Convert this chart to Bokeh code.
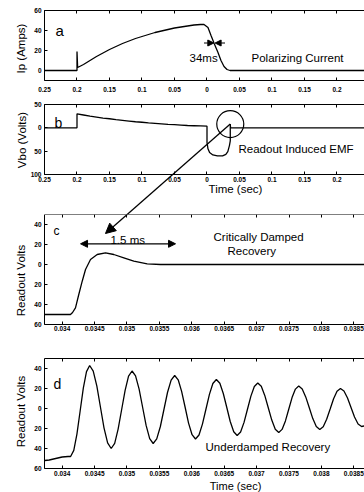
import math
from bokeh.plotting import figure
from bokeh.models import Range1d, LinearAxis, FixedTicker, Arrow, NormalHead, Label
from bokeh.layouts import column
from bokeh.embed import file_html
from bokeh.resources import INLINE

FONT = "Liberation Sans"

# ---------------- data ----------------
# Panel a: polarizing current (Amps) vs time (s)
a_t = [-0.25, -0.2, -0.2, -0.199, -0.19, -0.18, -0.17, -0.16, -0.15, -0.14, -0.13,
       -0.12, -0.11, -0.10, -0.09, -0.08, -0.07, -0.06, -0.05, -0.04, -0.03, -0.02,
       -0.01, -0.0046, 0.0015, 0.0062, 0.0112, 0.0169, 0.0215, 0.0262, 0.0308, 0.0354, 0.25]
a_ip = [0, 0, 19, 3, 6, 10, 14, 17.5, 21, 24, 27,
        29.5, 32, 34, 36, 38, 39.5, 41, 42.5, 43.5, 44.5, 45.5,
        46, 46, 43, 35, 26.7, 18, 10, 4, 1, 0, 0]

# Panel b: induced EMF (Volts) vs time (s)
b_t = [-0.25, -0.2, -0.2, -0.19, -0.18, -0.17, -0.16, -0.15, -0.14, -0.13, -0.12,
       -0.11, -0.10, -0.09, -0.08, -0.07, -0.06, -0.05, -0.04, -0.03, -0.02, -0.01,
       0.0, 0.0, 0.0015, 0.004, 0.009, 0.016, 0.024, 0.029, 0.032, 0.0345, 0.0358,
       0.0358, 0.0362, 0.037, 0.25]
b_v = [0, 0, 30, 27.5, 25, 23, 21, 19.5, 17.5, 16, 14.5,
       13, 12, 10.5, 9.5, 8.5, 7.5, 7, 6, 5, 4.5, 4,
       3.5, -31, -45, -53, -58, -60, -60, -57, -51, -38, -28,
       8, 1, 0, 0]

# Panel c: critically damped recovery (Volts) vs time (s)
c_t = [0.03373, 0.034128, 0.03416, 0.034205, 0.034256, 0.034309, 0.03436, 0.034437,
       0.03454, 0.034668, 0.034796, 0.034951, 0.035105, 0.035312, 0.035517, 0.0387]
c_v = [-50, -50, -48, -43.3, -30, -16.7, -5, 5,
       10, 11.7, 10, 6.7, 3.3, 0.7, 0, 0]

# Panel d: underdamped recovery (Volts) vs time (s)
d_t = [0.03373, 0.0338, 0.0339, 0.034, 0.03409, 0.03413,
       0.034179, 0.034228, 0.034277, 0.034326, 0.034375, 0.034424,
       0.034479, 0.034535, 0.03459, 0.034645, 0.034701, 0.034756,
       0.03481, 0.034863, 0.034917, 0.034971, 0.035024, 0.035078,
       0.035132, 0.035187, 0.035241, 0.035295, 0.03535, 0.035404,
       0.035459, 0.035515, 0.03557, 0.035625, 0.035681, 0.035736,
       0.03579, 0.035843, 0.035897, 0.03595, 0.036004, 0.036057,
       0.036111, 0.036164, 0.036218, 0.036272, 0.036325, 0.036379,
       0.036433, 0.036486, 0.03654, 0.036593, 0.036647, 0.0367,
       0.036753, 0.036806, 0.036859, 0.036912, 0.036965, 0.037018,
       0.037072, 0.037126, 0.03718, 0.037234, 0.037288, 0.037342,
       0.037393, 0.037445, 0.037496, 0.037547, 0.037599, 0.03765,
       0.037704, 0.037758, 0.037813, 0.037867, 0.037921, 0.037975,
       0.038028, 0.038081, 0.038135, 0.038188, 0.038241, 0.038294,
       0.038348, 0.038403, 0.038457, 0.038511, 0.038566, 0.03862, 0.0387]
d_v = [-52, -51.5, -50, -48.5, -48, -48,
       -41.9, -25.3, -2.5, 20.3, 36.9, 43,
       37.4, 22.3, 1.5, -19.3, -34.4, -40,
       -34.8, -20.6, -1.25, 18.1, 32.3, 37.5,
       32.6, 19.4, 1.25, -16.9, -30.1, -35,
       -30.4, -18, -1, 16, 28.4, 33,
       28.7, 17.1, 1.25, -14.6, -26.2, -30.5,
       -26.5, -15.6, -0.75, 14.1, 25, 29,
       25.2, 15, 1, -13, -23.2, -27,
       -23.5, -13.9, -0.75, 12.4, 22, 25.5,
       22.2, 13.1, 0.75, -11.6, -20.7, -24,
       -20.9, -12.4, -0.75, 10.9, 19.4, 22.5,
       19.6, 11.6, 0.75, -10.1, -18.1, -21,
       -18.3, -10.75, -0.5, 9.75, 17.3, 20,
       17.5, 10.5, 1, -8.5, -15.5, -18, -17]

# ticks
ab_xticks = [-0.25, -0.2, -0.15, -0.1, -0.05, 0.0, 0.05, 0.1, 0.15, 0.2]
ab_xlabels = ["0.25", "0.2", "0.15", "0.1", "0.05", "0", "0.05", "0.1", "0.15", "0.2"]
cd_xticks = [0.034, 0.0345, 0.035, 0.0355, 0.036, 0.0365, 0.037, 0.0375, 0.038, 0.0385]
cd_xlabels = ["0.034", "0.0345", "0.035", "0.0355", "0.036", "0.0365", "0.037",
              "0.0375", "0.038", "0.0385"]
a_yticks = [0, 20, 40, 60]
a_ylabels = ["0", "20", "40", "60"]
b_yticks = [-100, -50, 0, 50]
b_ylabels = ["100", "50", "0", "50"]
cd_yticks = [-60, -40, -20, 0, 20, 40]
cd_ylabels = ["60", "40", "20", "0", "20", "40"]

# panel boxes: axis limits of the drawn box, and the (larger) canvas ranges around it
AB_X = (-0.25, 0.242308)
AB_XR = (-0.317692, 0.242308)
CD_X = (0.033727, 0.038665)
CD_XR = (0.033048, 0.038665)


def panel(xr, xbox, yr, ybox, xt, xl, yt, yl, height, xstand):
    p = figure(width=364, height=height, x_range=Range1d(*xr), y_range=Range1d(*yr),
               output_backend="svg", toolbar_location=None,
               min_border_left=0, min_border_right=0, min_border_top=0,
               min_border_bottom=0, x_axis_location=None, y_axis_location=None)
    p.outline_line_color = None
    p.xgrid.visible = False
    p.ygrid.visible = False
    style = dict(major_tick_in=3, major_tick_out=0, minor_tick_line_color=None,
                 axis_line_color="black", major_tick_line_color="black",
                 major_label_text_font=FONT, major_label_text_font_size="6.5px",
                 major_label_text_font_style="bold", major_label_text_color="black")
    xa = LinearAxis(ticker=FixedTicker(ticks=xt, minor_ticks=[]),
                    major_label_overrides=dict(zip(xt, xl)), fixed_location=ybox[0],
                    bounds=xbox, major_label_standoff=xstand, **style)
    p.add_layout(xa, "below")
    ya = LinearAxis(ticker=FixedTicker(ticks=yt, minor_ticks=[]),
                    major_label_overrides=dict(zip(yt, yl)), fixed_location=xbox[0],
                    bounds=ybox, major_label_standoff=3, **style)
    p.add_layout(ya, "left")
    ta = LinearAxis(ticker=FixedTicker(ticks=xt, minor_ticks=[]), fixed_location=ybox[1],
                    bounds=xbox, major_label_text_color=None, major_label_text_font_size="1px",
                    major_label_standoff=0, major_tick_in=3, major_tick_out=0,
                    minor_tick_line_color=None, axis_line_color="black")
    p.add_layout(ta, "above")
    return p


def txt(p, x, y, s, size="11.5px", align="left", baseline="alphabetic", angle=0.0):
    p.add_layout(Label(x=x, y=y, text=s, text_font=FONT, text_font_size=size,
                       text_color="black", text_align=align, text_baseline=baseline,
                       angle=angle))


def ylab(p, x, y, s):
    txt(p, x, y, s, size="11.5px", align="center", baseline="middle", angle=math.pi / 2)


def head(size):
    return NormalHead(size=size, fill_color="black", line_color="black")


# ---------------- panel a ----------------
pa = panel(AB_XR, AB_X, (-27, 70), (-10, 60), ab_xticks, ab_xlabels, a_yticks, a_ylabels,
           97, 6)
pa.line(a_t, a_ip, line_color="black", line_width=1.3)
ylab(pa, -0.285385, 22, "Ip (Amps)")
txt(pa, -0.2331, 40, "a", "15px")
txt(pa, -0.0269, 13, "34ms")
txt(pa, 0.0685, 13, "Polarizing Current")
pa.add_layout(Arrow(end=head(6), x_start=-0.0046, y_start=27.5, x_end=0.0105, y_end=27.5,
                    line_color="black", line_width=1.2))
pa.add_layout(Arrow(end=head(6), x_start=0.0277, y_start=27.5, x_end=0.0125, y_end=27.5,
                    line_color="black", line_width=1.2))

# ---------------- panel b ----------------
pb = panel(AB_XR, AB_X, (-185.7, 65), (-100, 50), ab_xticks, ab_xlabels, b_yticks,
           b_ylabels, 117, 2)
pb.line(b_t, b_v, line_color="black", line_width=1.3)
spike = max(range(len(b_t)), key=lambda i: b_v[i] if b_t[i] > 0.01 else -1e9)
cx, cy = b_t[spike], b_v[spike]
pb.scatter([cx], [cy], marker="circle", size=27, fill_color=None,
           line_color="black", line_width=1.2)
pb.add_layout(Arrow(end=None, x_start=cx, y_start=cy, x_end=-0.1562, y_end=-226.4,
                    line_color="black", line_width=1.3))
ylab(pb, -0.283846, -26.1, "Vbo (Volts)")
txt(pb, -0.2346, 9.3, "b", "14px")
txt(pb, 0.0485, -44.3, "Readout Induced EMF")
txt(pb, 0.0438, -132, "Time (sec)", align="center")

# ---------------- panel c ----------------
pc = panel(CD_XR, CD_X, (-75, 50), (-60, 50), cd_xticks, cd_xlabels, cd_yticks,
           cd_ylabels, 125, 1)
pc.line(c_t, c_v, line_color="black", line_width=1.3)
pc.add_layout(Arrow(end=head(10), x_start=0.036594, y_start=140.4, x_end=0.034668, y_end=31,
                    line_color="black", line_width=1.3))
pc.add_layout(Arrow(start=head(7), end=head(7),
                    x_start=0.034283, y_start=20.7, x_end=0.035749, y_end=20.7,
                    line_color="black", line_width=1.2))
ylab(pc, 0.033357, -16, "Readout Volts")
txt(pc, 0.033866, 33.3, "c", "12px")
txt(pc, 0.034745, 25, "1.5 ms")
txt(pc, 0.036335, 28, "Critically Damped")
txt(pc, 0.036551, 14, "Recovery")

# ---------------- panel d ----------------
pd_ = panel(CD_XR, CD_X, (-84, 69), (-60, 50), cd_xticks, cd_xlabels, cd_yticks,
            cd_ylabels, 153, 2)
pd_.line(d_t, d_v, line_color="black", line_width=1.3)
ylab(pd_, 0.033357, -3, "Readout Volts")
txt(pd_, 0.033866, 25, "d", "14px")
txt(pd_, 0.036212, -38, "Underdamped Recovery")
txt(pd_, 0.036675, -77.5, "Time (sec)", size="11px", align="center")

layout = column(pa, pb, pc, pd_, spacing=0)
open("out.html", "w").write(file_html(layout, INLINE))
